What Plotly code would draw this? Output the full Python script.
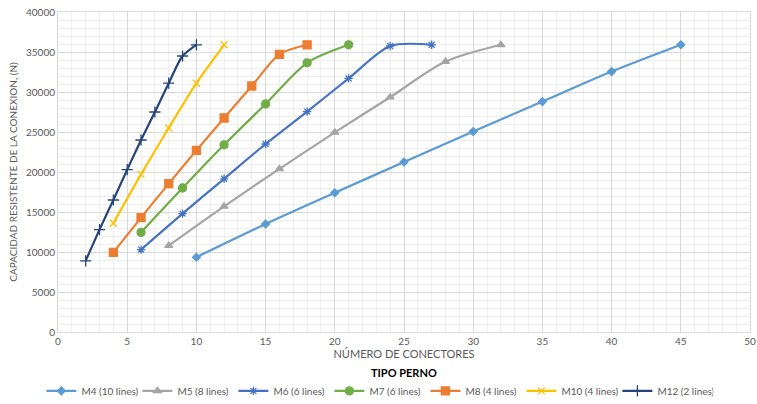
import plotly.graph_objects as go

# ---- data ----
m4_x = [10, 15, 20, 25, 30, 35, 40, 45]
m4_y = [9350, 13500, 17400, 21250, 25050, 28800, 32550, 35900]

m5_x = [8, 12, 16, 20, 24, 28, 32]
m5_y = [10800, 15700, 20400, 24950, 29350, 33800, 35900]

m6_x = [6, 9, 12, 15, 18, 21, 24, 27]
m6_y = [10300, 14800, 19150, 23500, 27550, 31700, 35750, 35900]

m7_x = [6, 9, 12, 15, 18, 21]
m7_y = [12450, 18000, 23400, 28500, 33650, 35900]

m8_x = [4, 6, 8, 10, 12, 14, 16, 18]
m8_y = [9950, 14300, 18550, 22700, 26750, 30750, 34700, 35900]

m10_x = [4, 6, 8, 10, 12]
m10_y = [13600, 19700, 25500, 31100, 35900]

m12_x = [2, 3, 4, 5, 6, 7, 8, 9, 10]
m12_y = [8900, 12800, 16500, 20300, 24000, 27500, 31100, 34500, 35900]

series_names = ["M4 (10 lines)", "M5 (8 lines)", "M6 (6 lines)", "M7 (6 lines)",
                "M8 (4 lines)", "M10 (4 lines)", "M12 (2 lines)"]
x_ticks = [0, 5, 10, 15, 20, 25, 30, 35, 40, 45, 50]
y_ticks = [0, 5000, 10000, 15000, 20000, 25000, 30000, 35000, 40000]

series = [
    (m4_x, m4_y, "#5B9BD5", "diamond", 6),
    (m5_x, m5_y, "#A5A5A5", "triangle-up", 7),
    (m6_x, m6_y, "#4472C4", "asterisk-open", 7),
    (m7_x, m7_y, "#70AD47", "circle", 8),
    (m8_x, m8_y, "#ED7D31", "square", 8),
    (m10_x, m10_y, "#FFC000", "x-thin-open", 7),
    (m12_x, m12_y, "#264478", "cross-thin-open", 8),
]

FONT = "Lato, Liberation Sans, sans-serif"
fig = go.Figure()
for (xs, ys, col, sym, sz), name in zip(series, series_names):
    fig.add_trace(go.Scatter(
        x=xs, y=ys, name=name, mode="lines+markers",
        line=dict(color=col, width=2.2, shape="spline", smoothing=0.8),
        marker=dict(color=col, symbol=sym, size=sz, line=dict(color=col, width=1.3)),
    ))

fig.update_layout(
    width=757, height=404,
    margin=dict(l=58, r=7, t=12, b=72, autoexpand=False),
    paper_bgcolor="white", plot_bgcolor="white",
    font=dict(family=FONT, size=10, color="#595959"),
    showlegend=True,
    legend=dict(orientation="h", x=-0.024, xanchor="left", y=-0.184, yanchor="middle",
                font=dict(family=FONT, size=10, color="#595959"),
                entrywidth=51, entrywidthmode="pixels", itemwidth=30,
                tracegroupgap=0, bgcolor="rgba(0,0,0,0)"),
    annotations=[dict(text="<b>TIPO PERNO</b>", x=0.5, xref="paper", y=-0.125, yref="paper",
                      showarrow=False, font=dict(family=FONT, size=11, color="#000000"),
                      xanchor="center", yanchor="middle")],
)
fig.update_xaxes(
    range=[0, 50], tickvals=x_ticks, ticks="", showgrid=True, gridcolor="#D9D9D9", gridwidth=1,
    minor=dict(dtick=1, showgrid=True, gridcolor="#EFEFEF", gridwidth=1),
    showline=True, linecolor="#D9D9D9", mirror=True, zeroline=False,
    title=dict(text="NÚMERO DE CONECTORES", font=dict(family=FONT, size=11, color="#595959"), standoff=2),
    tickfont=dict(family=FONT, size=10, color="#595959"),
)
fig.update_yaxes(
    range=[0, 40000], tickvals=y_ticks, tickformat="d", ticks="", showgrid=True, gridcolor="#D9D9D9", gridwidth=1,
    minor=dict(dtick=1000, showgrid=True, gridcolor="#EFEFEF", gridwidth=1),
    showline=True, linecolor="#D9D9D9", mirror=True, zeroline=False,
    title=dict(text="CAPACIDAD RESISTENTE DE LA CONEXION, (N)", font=dict(family=FONT, size=10, color="#595959"), standoff=6),
    tickfont=dict(family=FONT, size=10, color="#595959"),
)
fig.write_html("out.html", config={"displayModeBar": False},
               post_script="document.body.style.margin='0';document.body.style.padding='0';")
